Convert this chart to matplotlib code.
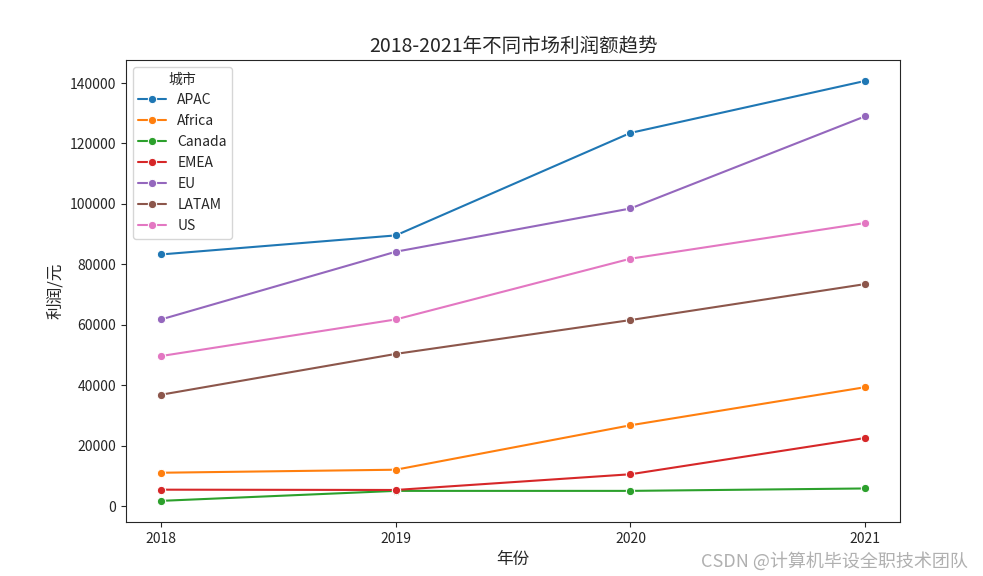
import pandas as pd
import seaborn as sns
import matplotlib.pyplot as plt

years = [2018, 2019, 2020, 2021]
markets = ["APAC", "Africa", "Canada", "EMEA", "EU", "LATAM", "US"]

apac = [83300, 89600, 123500, 140700]
africa = [11100, 12100, 26800, 39400]
canada = [1800, 5100, 5100, 5900]
emea = [5500, 5400, 10600, 22600]
eu = [61800, 84200, 98500, 129000]
latam = [36900, 50400, 61600, 73500]
us = [49700, 61800, 81900, 93700]

values = [apac, africa, canada, emea, eu, latam, us]

rows = []
for market, vals in zip(markets, values):
    for year, v in zip(years, vals):
        rows.append({"年份": year, "利润": v, "城市": market})
df = pd.DataFrame(rows)

sns.set_style("ticks")
plt.rcParams["font.family"] = ["Noto Sans CJK SC", "DejaVu Sans"]
plt.rcParams["axes.unicode_minus"] = False

fig = plt.figure(figsize=(9.83, 5.76), dpi=100)
ax = fig.add_axes([0.128, 0.094, 0.788, 0.802])

sns.lineplot(data=df, x="年份", y="利润", hue="城市", marker="o", ax=ax)

ax.set_xticks(years)
ax.set_title("2018-2021年不同市场利润额趋势", fontsize=14)
ax.set_xlabel("年份", fontsize=12)
ax.set_ylabel("利润/元", fontsize=12)
ax.legend(title="城市", loc="upper left")

fig.text(0.985, 0.01, "CSDN @计算机毕设全职技术团队", ha="right", va="bottom",
         fontsize=13, color="#b0b0b0")

fig.savefig("out.png", dpi=100)
